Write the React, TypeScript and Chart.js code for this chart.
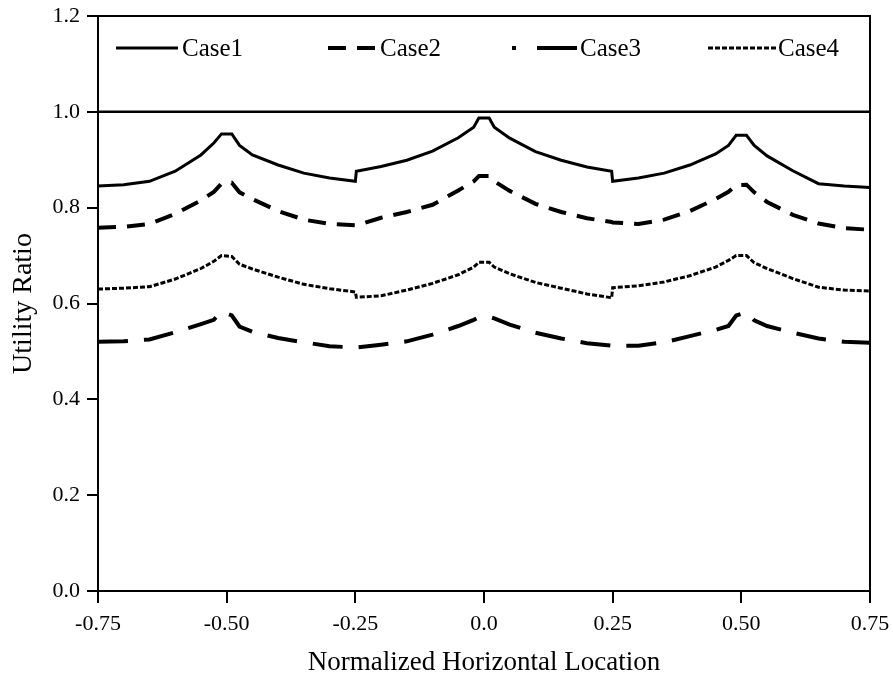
import React, { useEffect, useRef } from "react";
import { Chart, registerables } from "chart.js";

Chart.register(...registerables);

const xLoc = [
  -0.75, -0.7, -0.65, -0.6, -0.55, -0.525, -0.51, -0.49, -0.475, -0.45, -0.4, -0.35, -0.3, -0.25, -0.248,
  -0.2, -0.15, -0.1, -0.05, -0.02, -0.01, 0.01, 0.02, 0.05, 0.1, 0.15, 0.2, 0.248, 0.25, 0.3, 0.35, 0.4,
  0.45, 0.475, 0.49, 0.51, 0.525, 0.55, 0.6, 0.65, 0.7, 0.75,
];

const case1 = [
  0.845, 0.848, 0.855, 0.876, 0.91, 0.935, 0.954, 0.954, 0.93, 0.91, 0.889, 0.872, 0.862, 0.855, 0.876,
  0.886, 0.899, 0.918, 0.946, 0.968, 0.987, 0.987, 0.968, 0.945, 0.917, 0.899, 0.885, 0.876, 0.855, 0.862,
  0.872, 0.889, 0.912, 0.93, 0.951, 0.951, 0.93, 0.908, 0.877, 0.85, 0.845, 0.842,
];

const case2 = [
  0.758, 0.76, 0.766, 0.787, 0.815, 0.833, 0.85, 0.852, 0.832, 0.818, 0.793, 0.775, 0.766, 0.763, 0.763,
  0.779, 0.791, 0.806, 0.836, 0.855, 0.866, 0.866, 0.855, 0.835, 0.808, 0.791, 0.778, 0.77, 0.769, 0.766,
  0.775, 0.793, 0.818, 0.833, 0.847, 0.848, 0.832, 0.812, 0.785, 0.767, 0.757, 0.754,
];

const case3 = [
  0.52, 0.521, 0.525, 0.54, 0.557, 0.566, 0.583, 0.575, 0.552, 0.541, 0.528, 0.519, 0.511, 0.508, 0.508,
  0.514, 0.521, 0.535, 0.553, 0.566, 0.571, 0.572, 0.569, 0.556, 0.539, 0.527, 0.517, 0.512, 0.512, 0.512,
  0.519, 0.532, 0.545, 0.553, 0.575, 0.582, 0.565, 0.553, 0.539, 0.527, 0.52, 0.518,
];

const case4 = [
  0.63, 0.632, 0.635, 0.651, 0.673, 0.688, 0.7, 0.698, 0.682, 0.672, 0.655, 0.64, 0.631, 0.624, 0.613,
  0.616, 0.628, 0.642, 0.66, 0.676, 0.686, 0.686, 0.676, 0.662, 0.644, 0.632, 0.62, 0.612, 0.633, 0.637,
  0.645, 0.658, 0.676, 0.69, 0.7, 0.7, 0.685, 0.673, 0.652, 0.634, 0.628, 0.626,
];

const limitX = [-0.75, 0.75];
const limitY = [1.0, 1.0];

const seriesNames = ["Case1", "Case2", "Case3", "Case4"];
const yTickLabels = ["0.0", "0.2", "0.4", "0.6", "0.8", "1.0", "1.2"];
const xTickLabels = ["-0.75", "-0.50", "-0.25", "0.0", "0.25", "0.50", "0.75"];

const FONT = "'Liberation Serif', 'Times New Roman', serif";

const toPts = (xs: number[], ys: number[]) => xs.map((x, i) => ({ x, y: ys[i] }));

const legendSpec = [
  { x0: 18, x1: 80, dash: [] as number[], width: 3, text: 84 },
  { x0: 230, x1: 277, dash: [18, 11], width: 4, text: 282 },
  { x0: 414, x1: 479, dash: [4, 21, 40, 200], width: 4, text: 482 },
  { x0: 610, x1: 678, dash: [5, 2], width: 3, text: 680 },
];

const framePlugin = {
  id: "frameAndLegend",
  afterDraw(chart: any) {
    const { ctx, chartArea } = chart;
    ctx.save();
    ctx.strokeStyle = "#000";
    ctx.lineWidth = 2;
    ctx.strokeRect(chartArea.left, chartArea.top, chartArea.right - chartArea.left, chartArea.bottom - chartArea.top);
    const cy = chartArea.top + 32;
    ctx.font = `25px ${FONT}`;
    ctx.fillStyle = "#000";
    ctx.textBaseline = "middle";
    ctx.textAlign = "left";
    legendSpec.forEach((s, i) => {
      ctx.beginPath();
      ctx.setLineDash(s.dash);
      ctx.lineWidth = s.width;
      ctx.moveTo(chartArea.left + s.x0, cy);
      ctx.lineTo(chartArea.left + s.x1, cy);
      ctx.stroke();
      ctx.setLineDash([]);
      ctx.fillText(seriesNames[i], chartArea.left + s.text, cy + 1);
    });
    ctx.restore();
  },
};

export default function App() {
  const ref = useRef<HTMLCanvasElement | null>(null);
  useEffect(() => {
    if (!ref.current) return;
    const prevMargin = document.body.style.margin;
    document.body.style.margin = "0";
    const common = { fill: false, pointRadius: 0, borderColor: "#000", tension: 0 };
    const chart = new Chart(ref.current, {
      type: "line",
      data: {
        datasets: [
          { ...common, label: "limit", data: toPts(limitX, limitY), borderWidth: 2.5 },
          { ...common, label: seriesNames[0], data: toPts(xLoc, case1), borderWidth: 3 },
          { ...common, label: seriesNames[1], data: toPts(xLoc, case2), borderWidth: 4, borderDash: [18, 11] },
          { ...common, label: seriesNames[2], data: toPts(xLoc, case3), borderWidth: 4, borderDash: [30, 16] },
          { ...common, label: seriesNames[3], data: toPts(xLoc, case4), borderWidth: 3, borderDash: [5, 2] },
        ],
      },
      options: {
        animation: false,
        responsive: false,
        layout: { padding: { top: 16, right: 23, left: 0, bottom: 0 } },
        plugins: { legend: { display: false }, tooltip: { enabled: false } },
        scales: {
          x: {
            type: "linear",
            min: -0.75,
            max: 0.75,
            afterFit: (s: any) => {
              s.height = 86;
              s.paddingLeft = 0;
              s.paddingRight = 0;
            },
            ticks: {
              stepSize: 0.25,
              autoSkip: false,
              maxRotation: 0,
              padding: 8,
              color: "#000",
              font: { family: FONT, size: 22 },
              callback: (_v: any, i: number) => xTickLabels[i],
            },
            grid: { drawOnChartArea: false, drawTicks: true, tickLength: 12, color: "#000", lineWidth: 2 },
            border: { display: true, color: "#000", width: 2 },
            title: {
              display: true,
              text: "Normalized Horizontal Location",
              color: "#000",
              font: { family: FONT, size: 27 },
              padding: { top: 0, bottom: -2 },
            },
          },
          y: {
            type: "linear",
            min: 0,
            max: 1.2,
            afterFit: (s: any) => {
              s.width = 98;
              s.paddingTop = 0;
              s.paddingBottom = 0;
            },
            ticks: {
              stepSize: 0.2,
              autoSkip: false,
              padding: 7,
              color: "#000",
              font: { family: FONT, size: 22 },
              callback: (_v: any, i: number) => yTickLabels[i],
            },
            grid: { drawOnChartArea: false, drawTicks: true, tickLength: 11, color: "#000", lineWidth: 2 },
            border: { display: true, color: "#000", width: 2 },
            title: {
              display: true,
              text: "Utility Ratio",
              color: "#000",
              font: { family: FONT, size: 28 },
              padding: { top: 7, bottom: 0 },
            },
          },
        },
      },
      plugins: [framePlugin],
    } as any);
    return () => {
      chart.destroy();
      document.body.style.margin = prevMargin;
    };
  }, []);
  return <canvas ref={ref} width={893} height={677} style={{ display: "block" }} />;
}
